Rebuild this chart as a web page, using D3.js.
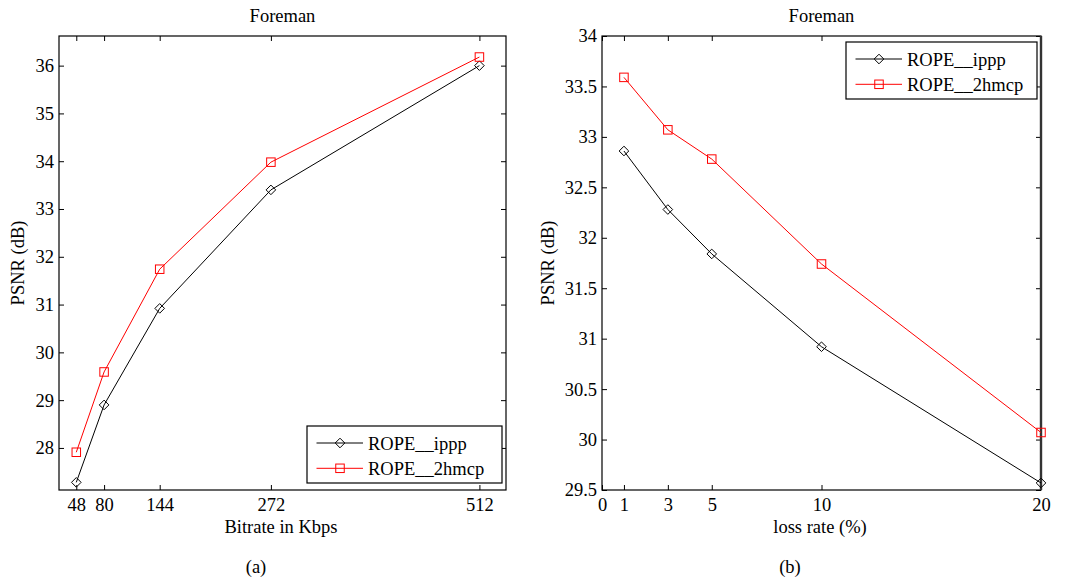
<!DOCTYPE html>
<html>
<head>
<meta charset="utf-8">
<script src="https://cdn.jsdelivr.net/npm/d3@7"></script>
<style>
  body { margin: 0; background: #fff; }
</style>
</head>
<body>
<svg id="chart" width="1071" height="580"></svg>
<script>
// PSNR of the Foreman sequence versus bitrate (a) and versus packet loss rate (b)
const bitrates = [48, 80, 144, 272, 512];
const bitratePsnrIppp = [27.28, 28.9, 30.92, 33.4, 36.0];
const bitratePsnr2hmcp = [27.91, 29.59, 31.74, 33.98, 36.18];

const lossRates = [1, 3, 5, 10, 20];
const lossPsnrIppp = [32.86, 32.28, 31.84, 30.92, 29.57];
const lossPsnr2hmcp = [33.59, 33.07, 32.78, 31.74, 30.07];

const bitrateTicks = [48, 80, 144, 272, 512];
const bitratePsnrTicks = [28, 29, 30, 31, 32, 33, 34, 35, 36];
const lossTicks = [0, 1, 3, 5, 10, 20];
const lossPsnrTicks = [29.5, 30, 30.5, 31, 31.5, 32, 32.5, 33, 33.5, 34];

const seriesNames = ["ROPE__ippp", "ROPE__2hmcp"];
const seriesColors = ["#000000", "#ff0000"];
const seriesMarkers = ["diamond", "square"];

const svg = d3.select("#chart");
const FAMILY = "'Liberation Serif', 'Times New Roman', Times, serif";
const FONT = 18.5;
const TICK = 5;

function label(g, x, y, str) {
  return g.append("text").attr("x", x).attr("y", y)
    .attr("font-family", FAMILY).attr("font-size", FONT).attr("fill", "#000").text(str);
}

function drawMarker(g, kind, x, y, color) {
  if (kind === "diamond") {
    const r = 4.8;
    g.append("path")
      .attr("d", `M${x},${y - r}L${x + r},${y}L${x},${y + r}L${x - r},${y}Z`)
      .attr("fill", "none").attr("stroke", color).attr("stroke-width", 1);
  } else {
    const s = 8.5;
    g.append("rect")
      .attr("x", x - s / 2).attr("y", y - s / 2).attr("width", s).attr("height", s)
      .attr("fill", "none").attr("stroke", color).attr("stroke-width", 1);
  }
}

function panel(cfg) {
  const { left, right, top, bottom } = cfg.box;
  const g = svg.append("g");
  const x = d3.scaleLinear().domain(cfg.xDomain).range([left, right]);
  const y = d3.scaleLinear().domain(cfg.yDomain).range([bottom, top]);

  // inward ticks on all four sides, labels on bottom and left only
  const styleAxis = sel => {
    sel.attr("font-family", FAMILY).attr("font-size", FONT);
    sel.select(".domain").remove();
    sel.selectAll(".tick line").attr("stroke", "#000").attr("stroke-width", 1);
    sel.selectAll("text").attr("fill", "#000");
  };
  g.append("g").attr("transform", `translate(0,${bottom})`)
    .call(d3.axisBottom(x).tickValues(cfg.xTicks).tickFormat(d => String(d))
      .tickSizeInner(-TICK).tickSizeOuter(0).tickPadding(8))
    .call(styleAxis);
  g.append("g").attr("transform", `translate(0,${top})`)
    .call(d3.axisTop(x).tickValues(cfg.xTicks).tickFormat("")
      .tickSizeInner(-TICK).tickSizeOuter(0))
    .call(styleAxis);
  g.append("g").attr("transform", `translate(${left},0)`)
    .call(d3.axisLeft(y).tickValues(cfg.yTicks).tickFormat(d => String(d))
      .tickSizeInner(-TICK).tickSizeOuter(0).tickPadding(5))
    .call(styleAxis);
  g.append("g").attr("transform", `translate(${right},0)`)
    .call(d3.axisRight(y).tickValues(cfg.yTicks).tickFormat("")
      .tickSizeInner(-TICK).tickSizeOuter(0))
    .call(styleAxis);

  // frame
  g.append("rect")
    .attr("x", left).attr("y", top).attr("width", right - left).attr("height", bottom - top)
    .attr("fill", "none").attr("stroke", "#000").attr("stroke-width", 1.2);
  if (cfg.heavyRight) {
    g.append("line").attr("x1", right).attr("x2", right).attr("y1", top).attr("y2", bottom)
      .attr("stroke", "#333").attr("stroke-width", 2.4);
  }

  // series
  const line = d3.line().x(d => x(d[0])).y(d => y(d[1]));
  cfg.series.forEach((vals, i) => {
    const pts = cfg.xValues.map((xv, k) => [xv, vals[k]]);
    g.append("path").datum(pts).attr("d", line)
      .attr("fill", "none").attr("stroke", seriesColors[i]).attr("stroke-width", 1);
    pts.forEach(p => drawMarker(g, seriesMarkers[i], x(p[0]), y(p[1]), seriesColors[i]));
  });

  // legend
  const L = cfg.legend;
  g.append("rect").attr("x", L.x).attr("y", L.y).attr("width", L.w).attr("height", L.h)
    .attr("fill", "#fff").attr("stroke", "#000").attr("stroke-width", 1.2);
  seriesNames.forEach((name, i) => {
    const cy = L.y + 17 + i * 25.3;
    g.append("line").attr("x1", L.x + 9.5).attr("x2", L.x + 56).attr("y1", cy).attr("y2", cy)
      .attr("stroke", seriesColors[i]).attr("stroke-width", 1);
    drawMarker(g, seriesMarkers[i], L.x + 33, cy, seriesColors[i]);
    label(g, L.x + 61, cy + 6.5, name);
  });

  // titles and labels
  const cx = (left + right) / 2;
  label(g, cx, 22, cfg.title).attr("text-anchor", "middle");
  label(g, cfg.xLabelX, 533, cfg.xLabel).attr("text-anchor", "middle");
  label(g, 0, 0, "PSNR (dB)").attr("text-anchor", "middle")
    .attr("transform", `translate(${cfg.yLabelX},263) rotate(-90)`);
  label(g, cfg.captionX, 573, cfg.caption).attr("text-anchor", "middle");
}

panel({
  box: { left: 59, right: 506, top: 36, bottom: 490 },
  xDomain: [28.1, 542.6], yDomain: [27.12, 36.62],
  xTicks: bitrateTicks, yTicks: bitratePsnrTicks,
  xValues: bitrates, series: [bitratePsnrIppp, bitratePsnr2hmcp],
  legend: { x: 307, y: 426, w: 195, h: 57 },
  title: "Foreman", xLabel: "Bitrate in Kbps", xLabelX: 281,
  yLabelX: 24, caption: "(a)", captionX: 256
});

panel({
  box: { left: 602, right: 1041, top: 36, bottom: 490 },
  xDomain: [0, 20], yDomain: [29.5, 34],
  xTicks: lossTicks, yTicks: lossPsnrTicks,
  xValues: lossRates, series: [lossPsnrIppp, lossPsnr2hmcp],
  legend: { x: 846, y: 42, w: 191, h: 57 },
  title: "Foreman", xLabel: "loss rate (%)", xLabelX: 820,
  yLabelX: 554, caption: "(b)", captionX: 790, heavyRight: true
});
</script>
</body>
</html>
